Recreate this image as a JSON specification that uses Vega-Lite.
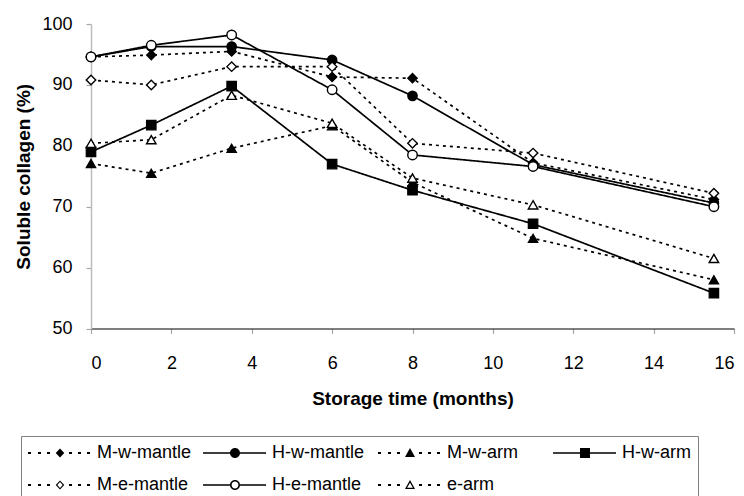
{
  "$schema": "https://vega.github.io/schema/vega-lite/v6.json",
  "autosize": {"type": "none"},
  "width": 643,
  "height": 304.5,
  "padding": {"left": 91, "top": 24, "right": 10, "bottom": 167.5},
  "background": "white",
  "config": {
    "view": {"stroke": null},
    "font": "Liberation Sans",
    "axis": {
      "grid": false,
      "labelFont": "Liberation Sans",
      "labelFontSize": 18,
      "labelColor": "black",
      "titleFont": "Liberation Sans",
      "titleFontSize": 19,
      "titleFontWeight": "bold",
      "titleColor": "black",
      "tickSize": 5,
      "tickColor": "#a8a8a8",
      "tickWidth": 1.2
    }
  },
  "data": {
    "values": [
      {"series": "M-w-mantle", "month": 0, "value": 94.6},
      {"series": "M-w-mantle", "month": 1.5, "value": 94.9},
      {"series": "M-w-mantle", "month": 3.5, "value": 95.5},
      {"series": "M-w-mantle", "month": 6, "value": 91.3},
      {"series": "M-w-mantle", "month": 8, "value": 91.1},
      {"series": "M-w-mantle", "month": 11, "value": 77.2},
      {"series": "M-w-mantle", "month": 15.5, "value": 71.2},
      {"series": "H-w-mantle", "month": 0, "value": 94.6},
      {"series": "H-w-mantle", "month": 1.5, "value": 96.3},
      {"series": "H-w-mantle", "month": 3.5, "value": 96.3},
      {"series": "H-w-mantle", "month": 6, "value": 94.1},
      {"series": "H-w-mantle", "month": 8, "value": 88.2},
      {"series": "H-w-mantle", "month": 11, "value": 76.9},
      {"series": "H-w-mantle", "month": 15.5, "value": 70.6},
      {"series": "M-w-arm", "month": 0, "value": 77.1},
      {"series": "M-w-arm", "month": 1.5, "value": 75.5},
      {"series": "M-w-arm", "month": 3.5, "value": 79.6},
      {"series": "M-w-arm", "month": 6, "value": 83.3},
      {"series": "M-w-arm", "month": 8, "value": 74.0},
      {"series": "M-w-arm", "month": 11, "value": 64.8},
      {"series": "M-w-arm", "month": 15.5, "value": 58.0},
      {"series": "H-w-arm", "month": 0, "value": 79.0},
      {"series": "H-w-arm", "month": 1.5, "value": 83.4},
      {"series": "H-w-arm", "month": 3.5, "value": 89.8},
      {"series": "H-w-arm", "month": 6, "value": 77.0},
      {"series": "H-w-arm", "month": 8, "value": 72.7},
      {"series": "H-w-arm", "month": 11, "value": 67.2},
      {"series": "H-w-arm", "month": 15.5, "value": 55.8},
      {"series": "M-e-mantle", "month": 0, "value": 90.8},
      {"series": "M-e-mantle", "month": 1.5, "value": 90.0},
      {"series": "M-e-mantle", "month": 3.5, "value": 93.0},
      {"series": "M-e-mantle", "month": 6, "value": 93.0},
      {"series": "M-e-mantle", "month": 8, "value": 80.4},
      {"series": "M-e-mantle", "month": 11, "value": 78.8},
      {"series": "M-e-mantle", "month": 15.5, "value": 72.2},
      {"series": "H-e-mantle", "month": 0, "value": 94.6},
      {"series": "H-e-mantle", "month": 1.5, "value": 96.5},
      {"series": "H-e-mantle", "month": 3.5, "value": 98.2},
      {"series": "H-e-mantle", "month": 6, "value": 89.2},
      {"series": "H-e-mantle", "month": 8, "value": 78.5},
      {"series": "H-e-mantle", "month": 11, "value": 76.6},
      {"series": "H-e-mantle", "month": 15.5, "value": 70.0},
      {"series": "e-arm", "month": 0, "value": 80.4},
      {"series": "e-arm", "month": 1.5, "value": 81.0},
      {"series": "e-arm", "month": 3.5, "value": 88.3},
      {"series": "e-arm", "month": 6, "value": 83.7},
      {"series": "e-arm", "month": 8, "value": 74.7},
      {"series": "e-arm", "month": 11, "value": 70.3},
      {"series": "e-arm", "month": 15.5, "value": 61.5}
    ]
  },
  "encoding": {
    "x": {
      "field": "month",
      "type": "quantitative",
      "scale": {"domain": [0, 16], "nice": false, "zero": false},
      "axis": {
        "title": "Storage time (months)",
        "values": [0, 2, 4, 6, 8, 10, 12, 14, 16],
        "domainColor": "black",
        "domainWidth": 1.2,
        "labelPadding": 21,
        "titlePadding": 17
      }
    },
    "y": {
      "field": "value",
      "type": "quantitative",
      "scale": {"domain": [50, 100], "nice": false, "zero": false},
      "axis": {
        "title": "Soluble collagen (%)",
        "values": [50, 60, 70, 80, 90, 100],
        "domainColor": "#bdbdbd",
        "domainWidth": 1.5,
        "labelPadding": 14,
        "titlePadding": 8
      }
    }
  },
  "resolve": {"scale": {"shape": "independent"}, "legend": {"shape": "independent"}},
  "layer": [
    {
      "mark": {"type": "line", "stroke": "black", "strokeWidth": 1.7},
      "encoding": {
        "detail": {"field": "series"},
        "strokeDash": {
          "field": "series",
          "type": "nominal",
          "scale": {
            "domain": ["H-w-mantle", "H-w-arm", "H-e-mantle", "M-w-mantle", "M-w-arm", "M-e-mantle", "e-arm"],
            "range": [[1, 0], [1, 0], [1, 0], [3, 4], [3, 4], [3, 4], [3, 4]]
          },
          "legend": null
        }
      }
    },
    {
      "transform": [{"filter": {"field": "series", "oneOf": ["M-w-mantle", "H-w-mantle", "M-w-arm", "H-w-arm"]}}],
      "mark": {"type": "point", "filled": true, "fill": "black", "stroke": "black", "strokeWidth": 1.2, "size": 90, "opacity": 1},
      "encoding": {
        "shape": {
          "field": "series",
          "type": "nominal",
          "scale": {
            "domain": ["M-w-mantle", "H-w-mantle", "M-w-arm", "H-w-arm"],
            "range": ["diamond", "circle", "triangle-up", "square"]
          },
          "legend": null
        }
      }
    },
    {
      "transform": [{"filter": {"field": "series", "oneOf": ["M-e-mantle", "H-e-mantle", "e-arm"]}}],
      "mark": {"type": "point", "filled": true, "fill": "white", "stroke": "black", "strokeWidth": 1.4, "size": 90, "opacity": 1},
      "encoding": {
        "shape": {
          "field": "series",
          "type": "nominal",
          "scale": {
            "domain": ["M-e-mantle", "H-e-mantle", "e-arm"],
            "range": ["diamond", "circle", "triangle-up"]
          },
          "legend": null
        }
      }
    },
    {
      "transform": [{"filter": {"field": "month", "lt": -100}}],
      "mark": {"type": "point", "filled": true, "fill": "black", "strokeWidth": 0, "size": 400, "opacity": 1},
      "encoding": {
        "shape": {
          "field": "series",
          "type": "nominal",
          "scale": {
            "domain": ["M-w-mantle", "H-w-mantle", "M-w-arm", "H-w-arm", "M-e-mantle", "H-e-mantle", "e-arm"],
            "range": [
              "M-1,-0.1H-0.7V0.1H-1ZM0,-0.1H0.3V0.1H0ZM0.9,-0.1H1.2V0.1H0.9ZM3.1,-0.1H3.4V0.1H3.1ZM4,-0.1H4.3V0.1H4ZM4.9,-0.1H5.2V0.1H4.9ZM2.2,-0.45L2.63,0L2.2,0.45L1.77,0Z",
              "M-1,-0.07H1.7V0.07H-1ZM2.7,-0.07H5.3V0.07H2.7ZM1.7,0A0.5,0.5,0,1,1,2.7,0A0.5,0.5,0,1,1,1.7,0Z",
              "M-1,-0.1H-0.7V0.1H-1ZM0,-0.1H0.3V0.1H0ZM0.9,-0.1H1.2V0.1H0.9ZM3.1,-0.1H3.4V0.1H3.1ZM4,-0.1H4.3V0.1H4ZM4.9,-0.1H5.2V0.1H4.9ZM2.2,-0.5L2.7,0.4L1.7,0.4Z",
              "M-1,-0.07H1.7V0.07H-1ZM2.7,-0.07H5.3V0.07H2.7ZM1.7,-0.5H2.7V0.5H1.7Z",
              "M-1,-0.1H-0.7V0.1H-1ZM0,-0.1H0.3V0.1H0ZM0.9,-0.1H1.2V0.1H0.9ZM3.1,-0.1H3.4V0.1H3.1ZM4,-0.1H4.3V0.1H4ZM4.9,-0.1H5.2V0.1H4.9ZM2.2,-0.45L2.63,0L2.2,0.45L1.77,0ZM2.2,-0.29L1.93,0L2.2,0.29L2.47,0Z",
              "M-1,-0.07H1.7V0.07H-1ZM2.7,-0.07H5.3V0.07H2.7ZM1.7,0A0.5,0.5,0,1,1,2.7,0A0.5,0.5,0,1,1,1.7,0ZM1.86,0A0.34,0.34,0,1,0,2.54,0A0.34,0.34,0,1,0,1.86,0Z",
              "M-1,-0.1H-0.7V0.1H-1ZM0,-0.1H0.3V0.1H0ZM0.9,-0.1H1.2V0.1H0.9ZM3.1,-0.1H3.4V0.1H3.1ZM4,-0.1H4.3V0.1H4ZM4.9,-0.1H5.2V0.1H4.9ZM2.2,-0.5L2.7,0.4L1.7,0.4ZM2.2,-0.22L1.91,0.27L2.49,0.27Z"
            ]
          },
          "legend": {
            "title": null,
            "orient": "none",
            "legendX": -70,
            "legendY": 412,
            "direction": "horizontal",
            "columns": 4,
            "gridAlign": "all",
            "columnPadding": 11,
            "rowPadding": 13,
            "padding": 7,
            "strokeColor": "#808080",
            "symbolSize": 400,
            "symbolStrokeWidth": 0,
            "symbolFillColor": "black",
            "symbolOpacity": 1,
            "labelFont": "Liberation Sans",
            "labelFontSize": 18,
            "labelColor": "black",
            "labelOffset": 49,
            "labelLimit": 200
          }
        }
      }
    }
  ]
}
